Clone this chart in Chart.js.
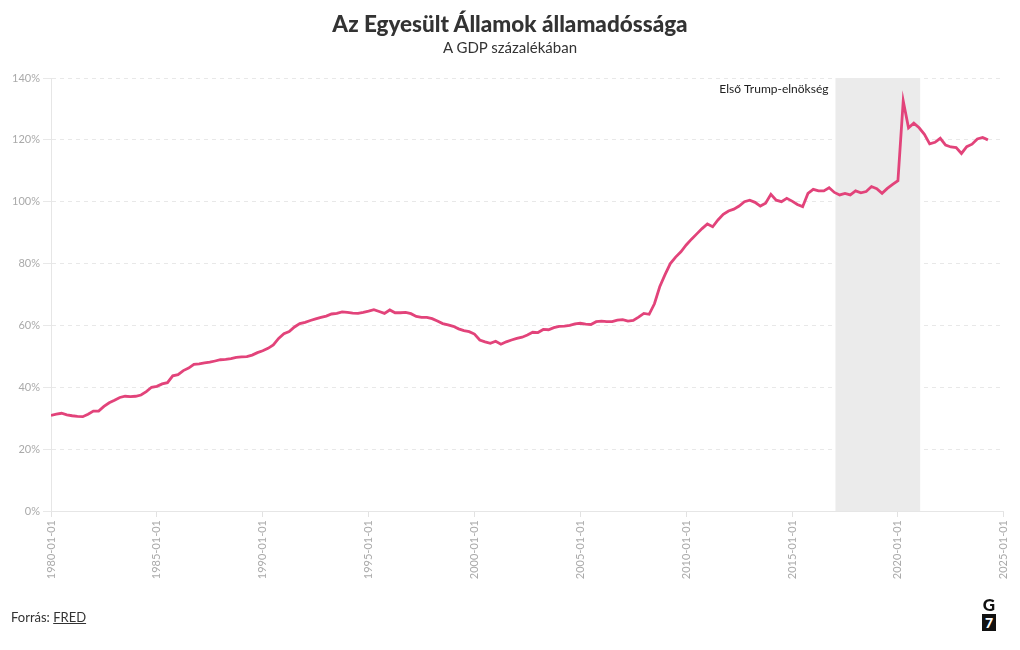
<!DOCTYPE html>
<html>
<head>
<meta charset="utf-8">
<script src="https://cdn.jsdelivr.net/npm/chart.js@4.4.1/dist/chart.umd.min.js"></script>
<style>
  html, body { margin:0; padding:0; background:#fff; }
  #wrap { position:relative; width:1020px; height:650px; overflow:hidden; font-family: Lato, "Open Sans", sans-serif; }
  #c { position:absolute; left:0; top:0; }
  #title { position:absolute; left:0; width:1020px; top:10px; text-align:center; font-size:22.5px; font-weight:900; color:#333; }
  #subtitle { position:absolute; left:0; width:1020px; top:38px; text-align:center; font-size:15px; color:#333; }
  #source { position:absolute; left:11px; top:609px; font-size:13px; color:#333; }
  #source span { text-decoration:underline; }
  #logoG { position:absolute; left:981px; top:596px; width:16px; text-align:center; font-size:17px; font-weight:900; color:#111; line-height:17px; }
  #logo7 { position:absolute; left:982px; top:614px; width:14px; height:17px; background:#111; color:#fff; text-align:center; font-size:14px; font-weight:900; line-height:17px; }
</style>
</head>
<body>
<div id="wrap">
  <canvas id="c" width="1020" height="650"></canvas>
  <div id="title">Az Egyesült Államok államadóssága</div>
  <div id="subtitle">A GDP százalékában</div>
  <div id="source">Forrás: <span>FRED</span></div>
  <div id="logoG">G</div>
  <div id="logo7">7</div>
</div>
<script>
// ---- data ----
const startYear = 1980;           // first quarter: 1980-01-01, quarterly series
const debtPct = [
  30.9, 31.3, 31.6, 31.1,   // 1980
  30.8, 30.6, 30.5, 31.3,   // 1981
  32.3, 32.3, 33.8, 35.0,   // 1982
  35.8, 36.7, 37.1, 37.0,   // 1983
  37.1, 37.5, 38.6, 40.0,   // 1984
  40.3, 41.1, 41.5, 43.7,   // 1985
  44.1, 45.4, 46.2, 47.4,   // 1986
  47.6, 47.9, 48.1, 48.5,   // 1987
  48.9, 49.0, 49.3, 49.7,   // 1988
  49.8, 49.9, 50.4, 51.2,   // 1989
  51.8, 52.6, 53.7, 55.8,   // 1990
  57.3, 58.0, 59.5, 60.6,   // 1991
  61.0, 61.6, 62.1, 62.6,   // 1992
  63.0, 63.7, 63.9, 64.4,   // 1993
  64.2, 64.0, 63.9, 64.2,   // 1994
  64.6, 65.1, 64.5, 63.9,   // 1995
  65.0, 64.1, 64.1, 64.2,   // 1996
  63.8, 62.9, 62.6, 62.6,   // 1997
  62.2, 61.4, 60.6, 60.2,   // 1998
  59.7, 58.9, 58.3, 58.0,   // 1999
  57.2, 55.3, 54.7, 54.2,   // 2000
  54.9, 53.9, 54.7, 55.3,   // 2001
  55.8, 56.2, 56.9, 57.8,   // 2002
  57.7, 58.7, 58.6, 59.3,   // 2003
  59.7, 59.8, 60.0, 60.5,   // 2004
  60.7, 60.4, 60.3, 61.2,   // 2005
  61.4, 61.2, 61.2, 61.7,   // 2006
  61.9, 61.4, 61.6, 62.7,   // 2007
  63.9, 63.6, 67.0, 72.5,   // 2008
  76.4, 80.0, 82.1, 83.8,   // 2009
  86.0, 87.9, 89.6, 91.3,   // 2010
  92.8, 91.9, 94.1, 95.9,   // 2011
  97.0, 97.6, 98.6, 100.0,  // 2012
  100.5, 99.8, 98.6, 99.5,  // 2013
  102.4, 100.5, 100.0, 101.1, // 2014
  100.2, 99.1, 98.4, 102.7, // 2015
  104.0, 103.5, 103.5, 104.5, // 2016
  103.0, 102.2, 102.7, 102.2, // 2017
  103.5, 102.9, 103.3, 104.9, // 2018
  104.2, 102.7, 104.3, 105.6, // 2019
  106.8, 132.6, 123.9, 125.4, // 2020
  123.9, 121.8, 118.7, 119.2, // 2021
  120.5, 118.3, 117.7, 117.5, // 2022
  115.6, 117.8, 118.6, 120.3, // 2023
  120.8, 120.0              // 2024
];
const xTickYears = [1980, 1985, 1990, 1995, 2000, 2005, 2010, 2015, 2020, 2025];
const yTicks = [0, 20, 40, 60, 80, 100, 120, 140];
const trumpTerm = [2017.05, 2021.05];   // 2017-01-20 .. 2021-01-20
const trumpLabel = 'Első Trump-elnökség';

// ---- build ----
const points = debtPct.map((v, i) => ({ x: startYear + i * 0.25, y: v }));

Chart.defaults.font.family = 'Lato, "Open Sans", sans-serif';

const shadePlugin = {
  id: 'shade',
  beforeDatasetsDraw(chart) {
    const { ctx, chartArea, scales } = chart;
    const x0 = scales.x.getPixelForValue(trumpTerm[0]);
    const x1 = scales.x.getPixelForValue(trumpTerm[1]);
    ctx.save();
    ctx.fillStyle = '#ebebeb';
    ctx.fillRect(x0, chartArea.top, x1 - x0, chartArea.bottom - chartArea.top);
    ctx.restore();
  },
  afterDraw(chart) {
    const { ctx, chartArea, scales } = chart;
    const x0 = scales.x.getPixelForValue(trumpTerm[0]);
    ctx.save();
    ctx.font = '12px Lato, "Open Sans", sans-serif';
    ctx.fillStyle = '#222';
    ctx.textAlign = 'right';
    ctx.textBaseline = 'middle';
    ctx.fillText(trumpLabel, x0 - 7, chartArea.top + 11);
    ctx.restore();
  }
};

new Chart(document.getElementById('c'), {
  type: 'line',
  data: {
    datasets: [{
      data: points,
      borderColor: '#e2437a',
      borderWidth: 2.8,
      pointRadius: 0,
      tension: 0,
      fill: false
    }]
  },
  options: {
    responsive: false,
    animation: false,
    layout: { padding: { top: 78, bottom: 69, left: 0, right: 16 } },
    plugins: { legend: { display: false }, tooltip: { enabled: false } },
    scales: {
      x: {
        type: 'linear',
        min: xTickYears[0],
        max: xTickYears[xTickYears.length - 1],
        afterBuildTicks(scale) { scale.ticks = xTickYears.map(v => ({ value: v })); },
        afterFit(scale) { scale.height = 70; },
        ticks: {
          autoSkip: false,
          minRotation: 90,
          maxRotation: 90,
          padding: 3,
          color: '#aaa',
          font: { size: 11 },
          callback: v => v + '-01-01'
        },
        grid: { drawOnChartArea: false, drawTicks: true, tickLength: 6, color: '#e2e2e2' },
        border: { display: true, color: '#e6e6e6', width: 1 }
      },
      y: {
        min: 0,
        max: 140,
        afterBuildTicks(scale) { scale.ticks = yTicks.map(v => ({ value: v })); },
        afterFit(scale) { scale.width = 51; },
        ticks: {
          padding: 3,
          color: '#aaa',
          font: { size: 11 },
          callback: v => v + '%'
        },
        grid: { color: '#e8e8e8', tickLength: 8, drawTicks: true },
        border: { display: true, color: '#e6e6e6', dash: [4, 4], width: 1 }
      }
    }
  },
  plugins: [shadePlugin]
});
</script>
</body>
</html>
